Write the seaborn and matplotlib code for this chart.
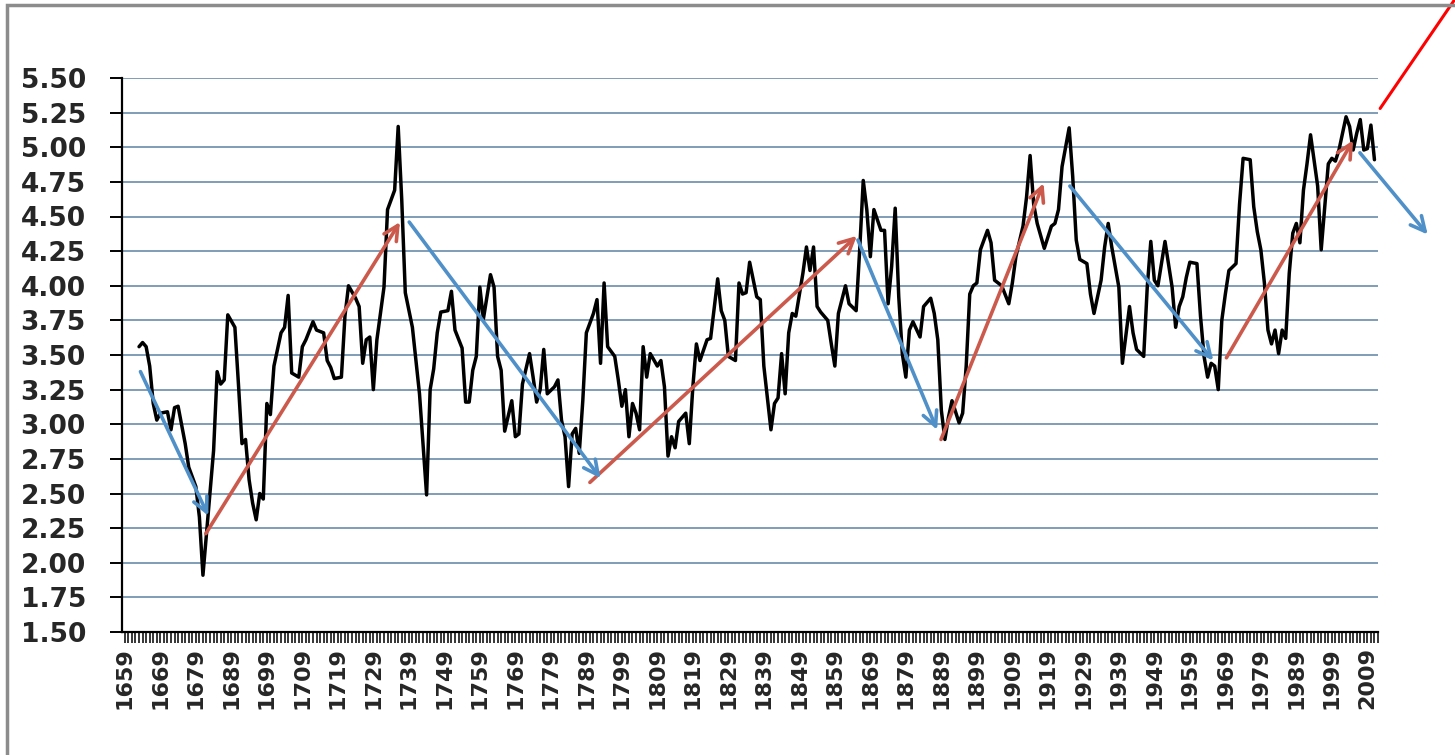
import matplotlib
matplotlib.use("Agg")
import matplotlib.pyplot as plt
import seaborn as sns
import pandas as pd
from matplotlib.ticker import MultipleLocator, FormatStrFormatter
from matplotlib.patches import Rectangle

years = [1663, 1664, 1665, 1666, 1667, 1668, 1669, 1671, 1672, 1673, 1674, 1676, 1677, 1679,
         1680, 1681, 1682, 1684, 1685, 1686, 1687, 1688, 1690, 1691, 1692, 1693, 1694, 1695,
         1696, 1697, 1698, 1699, 1700, 1701, 1703, 1704, 1705, 1706, 1708, 1709, 1710, 1712,
         1713, 1715, 1716, 1717, 1718, 1720, 1721, 1722, 1724, 1725, 1726, 1727, 1728, 1729,
         1730, 1732, 1733, 1735, 1736, 1737, 1738, 1740, 1742, 1744, 1745, 1746, 1747, 1748,
         1750, 1751, 1752, 1754, 1755, 1756, 1757, 1758, 1759, 1760, 1762, 1763, 1764, 1765,
         1766, 1768, 1769, 1770, 1771, 1773, 1774, 1775, 1776, 1777, 1778, 1780, 1781, 1782,
         1783, 1784, 1785, 1786, 1787, 1788, 1789, 1791, 1792, 1793, 1794, 1795, 1797, 1798,
         1799, 1800, 1801, 1802, 1803, 1804, 1805, 1806, 1807, 1809, 1810, 1811, 1812, 1813,
         1814, 1815, 1817, 1818, 1819, 1820, 1821, 1823, 1824, 1826, 1827, 1828, 1829, 1831,
         1832, 1833, 1834, 1835, 1837, 1838, 1839, 1841, 1842, 1843, 1844, 1845, 1846, 1847,
         1848, 1850, 1851, 1852, 1853, 1854, 1855, 1857, 1858, 1859, 1860, 1862, 1863, 1865,
         1866, 1867, 1868, 1869, 1870, 1872, 1873, 1874, 1875, 1876, 1877, 1878, 1879, 1880,
         1881, 1883, 1884, 1886, 1887, 1888, 1889, 1890, 1891, 1892, 1894, 1895, 1896, 1897,
         1898, 1899, 1900, 1902, 1903, 1904, 1905, 1906, 1908, 1909, 1910, 1912, 1913, 1914,
         1915, 1916, 1918, 1919, 1920, 1921, 1922, 1923, 1925, 1926, 1927, 1928, 1930, 1931,
         1932, 1934, 1935, 1936, 1937, 1939, 1940, 1942, 1943, 1944, 1946, 1947, 1948, 1949,
         1950, 1952, 1954, 1955, 1956, 1957, 1958, 1959, 1961, 1962, 1963, 1964, 1965, 1966,
         1967, 1968, 1969, 1970, 1972, 1973, 1974, 1976, 1977, 1978, 1979, 1980, 1981, 1982,
         1983, 1984, 1985, 1986, 1987, 1988, 1989, 1990, 1991, 1992, 1993, 1995, 1996, 1997,
         1998, 1999, 2000, 2001, 2002, 2003, 2004, 2005, 2006, 2007, 2008, 2009, 2010, 2011]
values = [3.56, 3.59, 3.56, 3.42, 3.15, 3.03, 3.08, 3.09, 2.96, 3.12, 3.13, 2.86, 2.69, 2.55,
          2.33, 1.91, 2.21, 2.81, 3.38, 3.29, 3.32, 3.79, 3.70, 3.29, 2.86, 2.89, 2.60, 2.43,
          2.31, 2.50, 2.46, 3.15, 3.07, 3.42, 3.66, 3.70, 3.93, 3.37, 3.34, 3.56, 3.61, 3.74,
          3.68, 3.66, 3.46, 3.41, 3.33, 3.34, 3.78, 4.00, 3.91, 3.85, 3.44, 3.61, 3.63, 3.25,
          3.61, 3.99, 4.55, 4.69, 5.15, 4.62, 3.95, 3.70, 3.22, 2.49, 3.25, 3.40, 3.66, 3.81,
          3.82, 3.96, 3.68, 3.55, 3.16, 3.16, 3.39, 3.49, 3.99, 3.76, 4.08, 3.99, 3.49, 3.39,
          2.95, 3.17, 2.91, 2.93, 3.29, 3.51, 3.34, 3.16, 3.25, 3.54, 3.22, 3.27, 3.32, 3.03,
          2.91, 2.55, 2.93, 2.97, 2.79, 3.17, 3.66, 3.80, 3.90, 3.44, 4.02, 3.56, 3.49, 3.32,
          3.13, 3.25, 2.91, 3.15, 3.08, 2.96, 3.56, 3.34, 3.51, 3.42, 3.46, 3.27, 2.77, 2.91,
          2.83, 3.02, 3.08, 2.86, 3.27, 3.58, 3.46, 3.61, 3.62, 4.05, 3.82, 3.75, 3.49, 3.46,
          4.02, 3.94, 3.95, 4.17, 3.92, 3.90, 3.42, 2.96, 3.15, 3.19, 3.51, 3.22, 3.66, 3.80,
          3.78, 4.09, 4.28, 4.11, 4.28, 3.85, 3.81, 3.75, 3.58, 3.42, 3.80, 4.00, 3.87, 3.82,
          4.26, 4.76, 4.55, 4.21, 4.55, 4.40, 4.40, 3.87, 4.14, 4.56, 3.92, 3.51, 3.34, 3.68,
          3.74, 3.63, 3.85, 3.91, 3.80, 3.61, 3.10, 2.89, 3.05, 3.17, 3.01, 3.08, 3.42, 3.94,
          4.00, 4.02, 4.26, 4.40, 4.31, 4.04, 4.02, 4.00, 3.87, 4.02, 4.21, 4.43, 4.64, 4.94,
          4.59, 4.45, 4.27, 4.35, 4.43, 4.45, 4.55, 4.86, 5.14, 4.79, 4.33, 4.19, 4.16, 3.94,
          3.80, 4.04, 4.28, 4.45, 4.28, 3.99, 3.44, 3.85, 3.66, 3.54, 3.49, 3.99, 4.32, 4.04,
          4.00, 4.32, 3.99, 3.70, 3.85, 3.92, 4.06, 4.17, 4.16, 3.78, 3.49, 3.34, 3.44, 3.42,
          3.25, 3.75, 3.94, 4.11, 4.16, 4.59, 4.92, 4.91, 4.57, 4.39, 4.26, 4.02, 3.68, 3.58,
          3.68, 3.51, 3.68, 3.62, 4.09, 4.38, 4.45, 4.31, 4.69, 4.88, 5.09, 4.72, 4.26, 4.57,
          4.88, 4.92, 4.90, 4.98, 5.10, 5.22, 5.15, 4.98, 5.10, 5.20, 4.98, 4.99, 5.16, 4.91]

# trend arrows drawn over the series (start year, start value) -> (end year, end value)
down_from_year = [1663.4, 1739.1, 1865.5, 1925.2, 2006.9]
down_from_val = [3.38, 4.46, 4.33, 4.72, 4.96]
down_to_year = [1682.5, 1793.0, 1887.8, 1965.6, 2026.0]
down_to_val = [2.34, 2.61, 2.96, 3.46, 4.37]

up_from_year = [1681.8, 1790.0, 1888.9, 1969.3]
up_from_val = [2.21, 2.58, 2.89, 3.48]
up_to_year = [1736.5, 1865.2, 1917.8, 2005.0]
up_to_val = [4.46, 4.36, 4.74, 5.05]

# red pointer line leaving the chart at the top right
pointer_year = [2012.6, 2034.5]
pointer_val = [5.28, 6.10]

tick_years = list(range(1659, 2010, 10))

sns.set_style("white")
plt.rcParams["font.family"] = ["DejaVu Sans"]

fig = plt.figure(figsize=(14.55, 7.55), dpi=100)
ax = fig.add_axes([122 / 1455, 1 - 632 / 755, 1256 / 1455, 554 / 755])

df = pd.DataFrame({"year": years, "value": values})
sns.lineplot(data=df, x="year", y="value", color="black", linewidth=2.5, ax=ax, zorder=3)

ax.set_xlim(1658.2, 2012.0)
ax.set_ylim(1.5, 5.5)
ax.yaxis.set_major_locator(MultipleLocator(0.25))
ax.yaxis.set_major_formatter(FormatStrFormatter("%.2f"))
ax.set_xticks(tick_years)
ax.set_xticklabels([str(y) for y in tick_years], rotation=90)
ax.xaxis.set_minor_locator(MultipleLocator(1))

ax.grid(axis="y", color="#7f9db6", linewidth=1.4)
ax.grid(axis="x", visible=False)
for side in ["top", "right"]:
    ax.spines[side].set_visible(False)
for side in ["left", "bottom"]:
    ax.spines[side].set_color("black")
    ax.spines[side].set_linewidth(1.6)

ax.tick_params(axis="y", which="major", left=True, direction="out", length=9, width=1.4,
               color="black", pad=17, labelsize=19)
ax.tick_params(axis="x", which="both", bottom=True, direction="out", length=8, width=1.1,
               color="black", pad=3, labelsize=16)
for lbl in ax.get_yticklabels() + ax.get_xticklabels():
    lbl.set_fontweight("bold")
ax.set_xlabel("")
ax.set_ylabel("")

for x0, y0, x1, y1 in zip(up_from_year, up_from_val, up_to_year, up_to_val):
    ax.annotate("", xy=(x1, y1), xytext=(x0, y0), annotation_clip=False,
                arrowprops=dict(arrowstyle="->", color="#cc5a4c", lw=2.6,
                                mutation_scale=26, shrinkA=0, shrinkB=0), zorder=4)
for x0, y0, x1, y1 in zip(down_from_year, down_from_val, down_to_year, down_to_val):
    ax.annotate("", xy=(x1, y1), xytext=(x0, y0), annotation_clip=False,
                arrowprops=dict(arrowstyle="->", color="#4f90c8", lw=2.6,
                                mutation_scale=26, shrinkA=0, shrinkB=0), zorder=4)

ax.plot(pointer_year, pointer_val, color="#ff0000", linewidth=2.2, clip_on=False, zorder=5)

fig.add_artist(Rectangle((7 / 1455, -0.1), 2.0, 1.1 - 5 / 755, transform=fig.transFigure,
                         fill=False, edgecolor="#8c8c8c", linewidth=2.5))

fig.savefig("out.png", dpi=100, facecolor="white")
